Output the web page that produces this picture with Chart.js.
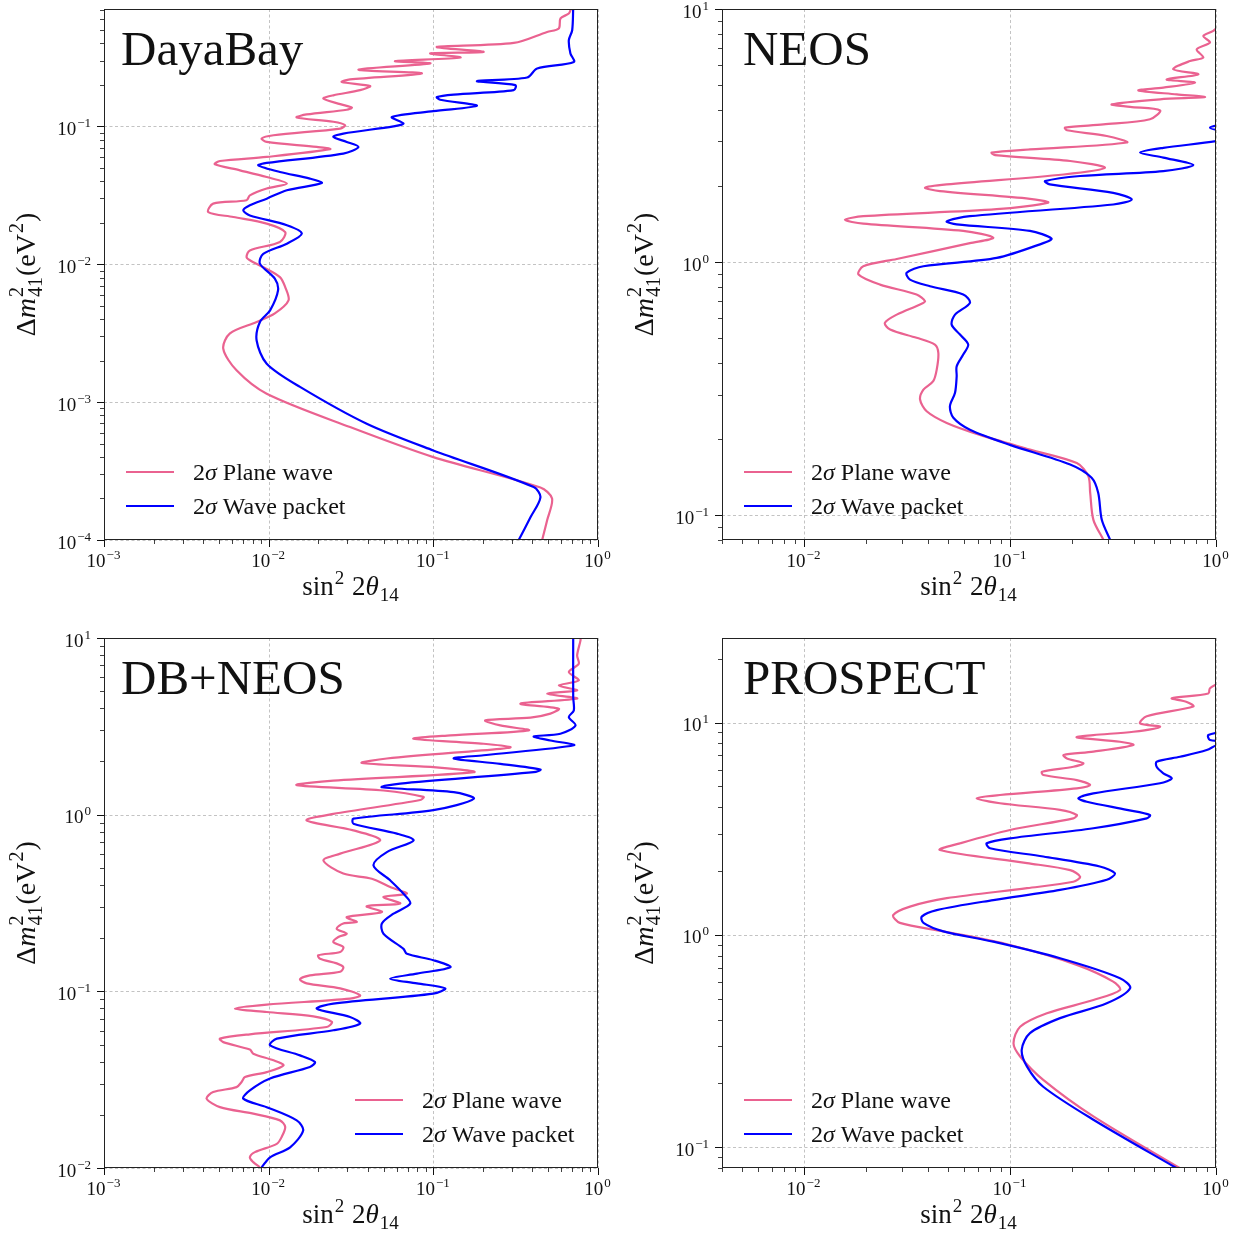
<!DOCTYPE html>
<html>
<head>
<meta charset="utf-8">
<title>Sterile neutrino 2σ contours</title>
<script src="https://cdn.jsdelivr.net/npm/chart.js@4.4.1/dist/chart.umd.min.js"></script>
<style>
  body { margin: 0; background: #fff; }
  #wrap { position: relative; width: 1245px; height: 1235px; }
  #wrap canvas { position: absolute; left: 0; top: 0; }
</style>
</head>
<body>
<div id="wrap">
  <canvas id="dayabay" width="1245" height="1235"></canvas>
  <canvas id="neos" width="1245" height="1235"></canvas>
  <canvas id="dbneos" width="1245" height="1235"></canvas>
  <canvas id="prospect" width="1245" height="1235"></canvas>
</div>
<script>
// Contours are [sin^2 2theta14, dm^2_41 (eV^2)] pairs, ordered by dm^2.
const dayaBayPlane = [
  [0.458, 1.0e-4], [0.491, 1.39e-4], [0.526, 2.0e-4], [0.447, 2.40e-4], [0.100, 3.99e-4],
  [0.0312, 6.59e-4], [0.00973, 1.15e-3], [0.00638, 1.70e-3], [0.00530, 2.44e-3], [0.00582, 3.15e-3],
  [0.00845, 3.81e-3], [0.0109, 4.40e-3], [0.0132, 5.47e-3], [0.0126, 6.83e-3], [0.0117, 8.07e-3],
  [0.00923, 9.54e-3], [0.00769, 0.0107], [0.00734, 0.0113], [0.00769, 0.0126], [0.0117, 0.0145],
  [0.0126, 0.0171], [0.00973, 0.0197], [0.00610, 0.0220], [0.00430, 0.0239], [0.00460, 0.0275],
  [0.00734, 0.0291], [0.00769, 0.0316], [0.00973, 0.0354], [0.0129, 0.0385], [0.00973, 0.0429],
  [0.00669, 0.0480], [0.00471, 0.0531], [0.00506, 0.0561], [0.00973, 0.0600], [0.0236, 0.0683],
  [0.0196, 0.0709], [0.00973, 0.0771], [0.00907, 0.0816], [0.0107, 0.0862], [0.0272, 0.0964],
  [0.0291, 0.102], [0.0247, 0.108], [0.0148, 0.116], [0.0170, 0.122], [0.0298, 0.132],
  [0.0320, 0.137], [0.0272, 0.145], [0.0215, 0.159], [0.0247, 0.168], [0.0359, 0.183],
  [0.0413, 0.196], [0.0278, 0.210], [0.0312, 0.219], [0.0852, 0.242], [0.0351, 0.258],
  [0.0958, 0.286], [0.0586, 0.297], [0.146, 0.316], [0.0958, 0.338], [0.202, 0.347],
  [0.105, 0.377], [0.308, 0.403], [0.491, 0.484], [0.578, 0.513], [0.592, 0.606],
  [0.665, 0.659], [0.687, 0.716]
];
const dayaBayPacket = [
  [0.330, 1.0e-4], [0.389, 1.46e-4], [0.447, 2.04e-4], [0.407, 2.42e-4], [0.100, 4.46e-4],
  [0.0394, 6.97e-4], [0.0155, 1.29e-3], [0.00973, 1.90e-3], [0.00845, 2.80e-3], [0.00885, 3.81e-3],
  [0.0102, 4.63e-3], [0.0114, 6.46e-3], [0.0109, 7.86e-3], [0.00885, 0.0101], [0.00927, 0.0119],
  [0.0129, 0.0141], [0.0159, 0.0167], [0.0129, 0.0192], [0.00769, 0.0226], [0.00701, 0.0246],
  [0.00769, 0.0268], [0.00973, 0.0299], [0.0129, 0.0344], [0.0210, 0.0388], [0.0178, 0.0418],
  [0.0117, 0.0467], [0.00865, 0.0522], [0.00973, 0.0543], [0.0284, 0.0635], [0.0351, 0.0709],
  [0.0298, 0.0771], [0.0247, 0.0838], [0.0284, 0.0887], [0.0573, 0.100], [0.0659, 0.105],
  [0.0560, 0.117], [0.100, 0.129], [0.184, 0.141], [0.110, 0.156], [0.105, 0.163],
  [0.133, 0.170], [0.308, 0.183], [0.315, 0.199], [0.184, 0.213], [0.371, 0.226],
  [0.427, 0.263], [0.713, 0.293], [0.680, 0.338], [0.665, 0.422], [0.697, 0.498], [0.707, 0.716]
];
const neosPlane = [
  [0.284, 0.0802], [0.254, 0.0961], [0.245, 0.123], [0.240, 0.143], [0.211, 0.161],
  [0.125, 0.182], [0.0715, 0.208], [0.0493, 0.232], [0.0394, 0.258], [0.0366, 0.287],
  [0.0380, 0.314], [0.0424, 0.339], [0.0441, 0.377], [0.0449, 0.438], [0.0432, 0.473],
  [0.0352, 0.503], [0.0262, 0.542], [0.0247, 0.576], [0.0282, 0.621], [0.0366, 0.681],
  [0.0387, 0.701], [0.0352, 0.746], [0.0234, 0.816], [0.0184, 0.894], [0.0194, 0.964],
  [0.0282, 1.03], [0.0639, 1.19], [0.0830, 1.25], [0.0593, 1.33], [0.0194, 1.42],
  [0.0158, 1.47], [0.0194, 1.52], [0.0862, 1.62], [0.153, 1.72], [0.125, 1.78],
  [0.0457, 1.91], [0.0387, 1.97], [0.0493, 2.03], [0.182, 2.22], [0.289, 2.36],
  [0.196, 2.51], [0.0846, 2.65], [0.0815, 2.71], [0.125, 2.79], [0.369, 2.97],
  [0.295, 3.15], [0.189, 3.32], [0.185, 3.40], [0.284, 3.50], [0.478, 3.67],
  [0.535, 3.98], [0.383, 4.11], [0.312, 4.20], [0.535, 4.40], [0.884, 4.49],
  [0.645, 4.60], [0.420, 4.77], [0.555, 4.89], [0.791, 5.12], [0.576, 5.27],
  [0.821, 5.52], [0.620, 5.78], [0.748, 6.23], [0.868, 6.43], [0.806, 6.93],
  [0.935, 7.37], [0.868, 7.82], [0.970, 8.19], [1.07, 8.78]
];
const neosPacket = [
  [0.306, 0.0802], [0.279, 0.0961], [0.268, 0.123], [0.249, 0.141], [0.196, 0.159],
  [0.100, 0.190], [0.0639, 0.218], [0.0531, 0.243], [0.0511, 0.270], [0.0541, 0.305],
  [0.0551, 0.354], [0.0551, 0.388], [0.0593, 0.432], [0.0627, 0.473], [0.0572, 0.518],
  [0.0521, 0.567], [0.0541, 0.621], [0.0639, 0.691], [0.0593, 0.746], [0.0409, 0.804],
  [0.0327, 0.854], [0.0315, 0.908], [0.0380, 0.964], [0.0862, 1.04], [0.145, 1.19],
  [0.159, 1.24], [0.125, 1.33], [0.0551, 1.41], [0.0493, 1.45], [0.0639, 1.52],
  [0.317, 1.69], [0.390, 1.77], [0.317, 1.88], [0.156, 2.03], [0.148, 2.09],
  [0.219, 2.19], [0.555, 2.29], [0.776, 2.42], [0.555, 2.59], [0.428, 2.71],
  [0.555, 2.83], [1.01, 3.01], [1.31, 3.17], [0.935, 3.40], [1.31, 3.67], [1.5, 4.5]
];
const dbNeosPlane = [
  [0.00885, 0.0101], [0.00806, 0.0108], [0.00769, 0.0115], [0.00825, 0.0123], [0.0112, 0.0137],
  [0.0120, 0.0150], [0.0126, 0.0171], [0.0117, 0.0186], [0.00806, 0.0203], [0.00506, 0.0221],
  [0.00420, 0.0247], [0.00460, 0.0269], [0.00638, 0.0287], [0.00685, 0.0307], [0.00718, 0.0327],
  [0.00973, 0.0349], [0.0123, 0.0381], [0.0107, 0.0407], [0.00806, 0.0444], [0.00769, 0.0468],
  [0.00530, 0.0516], [0.00506, 0.0540], [0.00769, 0.0571], [0.0225, 0.0628], [0.0242, 0.0671],
  [0.0187, 0.0722], [0.00973, 0.0764], [0.00624, 0.0798], [0.00973, 0.0841], [0.0312, 0.0909],
  [0.0359, 0.0949], [0.0272, 0.104], [0.0170, 0.111], [0.0155, 0.117], [0.0178, 0.123],
  [0.0272, 0.129], [0.0284, 0.137], [0.0259, 0.144], [0.0205, 0.153], [0.0200, 0.160],
  [0.0272, 0.167], [0.0284, 0.178], [0.0247, 0.190], [0.0265, 0.203], [0.0298, 0.212],
  [0.0259, 0.226], [0.0284, 0.242], [0.0343, 0.247], [0.0298, 0.263], [0.0487, 0.281],
  [0.0394, 0.303], [0.0629, 0.314], [0.0498, 0.342], [0.0691, 0.357], [0.0547, 0.389],
  [0.0423, 0.434], [0.0284, 0.464], [0.0215, 0.551], [0.0272, 0.602], [0.0475, 0.715],
  [0.0327, 0.815], [0.0170, 0.928], [0.0247, 1.01], [0.0832, 1.21], [0.0872, 1.26],
  [0.0498, 1.37], [0.0148, 1.47], [0.0247, 1.56], [0.176, 1.74], [0.100, 1.86],
  [0.0368, 1.96], [0.0522, 2.08], [0.255, 2.36], [0.294, 2.41], [0.202, 2.52],
  [0.0758, 2.69], [0.127, 2.81], [0.380, 3.00], [0.255, 3.20], [0.207, 3.42],
  [0.389, 3.54], [0.514, 3.73], [0.578, 3.98], [0.338, 4.25], [0.747, 4.54],
  [0.491, 4.84], [0.747, 5.05], [0.578, 5.39], [0.764, 5.75], [0.665, 6.41],
  [0.764, 7.15], [0.747, 7.97], [0.783, 9.69], [0.783, 10.0]
];
const dbNeosPacket = [
  [0.00907, 0.0101], [0.0102, 0.0115], [0.0135, 0.0131], [0.0162, 0.0163], [0.0148, 0.0186],
  [0.00973, 0.0221], [0.00701, 0.0247], [0.00769, 0.0275], [0.0102, 0.0321], [0.0178, 0.0373],
  [0.0191, 0.0398], [0.0155, 0.0434], [0.0102, 0.0495], [0.0112, 0.0540], [0.0247, 0.0602],
  [0.0359, 0.0657], [0.0312, 0.0716], [0.0196, 0.0798], [0.0247, 0.0852], [0.100, 0.0970],
  [0.118, 0.104], [0.0795, 0.111], [0.0547, 0.118], [0.0795, 0.126], [0.127, 0.137],
  [0.100, 0.150], [0.0691, 0.163], [0.0659, 0.174], [0.0498, 0.212], [0.0487, 0.242],
  [0.0573, 0.275], [0.0724, 0.314], [0.0659, 0.357], [0.0547, 0.425], [0.0433, 0.517],
  [0.0522, 0.614], [0.0758, 0.715], [0.0601, 0.781], [0.0327, 0.889], [0.0327, 0.949],
  [0.100, 1.06], [0.176, 1.23], [0.133, 1.34], [0.0487, 1.43], [0.0629, 1.50],
  [0.407, 1.74], [0.447, 1.80], [0.255, 1.94], [0.133, 2.08], [0.202, 2.17],
  [0.713, 2.47], [0.514, 2.63], [0.407, 2.77], [0.591, 2.87], [0.730, 3.20],
  [0.665, 3.57], [0.713, 3.89], [0.707, 4.63], [0.707, 10.0]
];
const prospectPlane = [
  [0.669, 0.0798], [0.254, 0.140], [0.145, 0.208], [0.112, 0.268], [0.104, 0.309],
  [0.112, 0.370], [0.151, 0.428], [0.254, 0.494], [0.342, 0.551], [0.317, 0.603],
  [0.211, 0.723], [0.100, 0.897], [0.0475, 1.04], [0.0292, 1.14], [0.0271, 1.24],
  [0.0327, 1.36], [0.0493, 1.49], [0.121, 1.66], [0.203, 1.78], [0.219, 1.88],
  [0.196, 2.02], [0.121, 2.18], [0.0457, 2.51], [0.0572, 2.70], [0.100, 3.12],
  [0.203, 3.54], [0.211, 3.67], [0.175, 3.88], [0.0894, 4.17], [0.0689, 4.40],
  [0.0894, 4.56], [0.211, 4.90], [0.245, 5.08], [0.211, 5.36], [0.145, 5.66],
  [0.143, 5.87], [0.203, 6.19], [0.227, 6.43], [0.189, 6.78], [0.182, 7.03],
  [0.254, 7.29], [0.397, 7.84], [0.342, 8.12], [0.211, 8.52], [0.254, 8.73],
  [0.397, 9.05], [0.535, 9.56], [0.428, 9.91], [0.461, 10.7], [0.776, 11.9],
  [0.721, 12.5], [0.610, 13.0], [0.918, 13.7], [0.935, 14.5], [1.11, 15.9]
];
const prospectPacket = [
  [0.645, 0.0798], [0.254, 0.135], [0.145, 0.193], [0.121, 0.240], [0.114, 0.288],
  [0.125, 0.345], [0.175, 0.406], [0.295, 0.477], [0.383, 0.561], [0.342, 0.626],
  [0.175, 0.777], [0.0830, 0.930], [0.0475, 1.04], [0.0380, 1.14], [0.0373, 1.22],
  [0.0441, 1.31], [0.0830, 1.46], [0.175, 1.63], [0.295, 1.82], [0.323, 1.95],
  [0.273, 2.10], [0.145, 2.34], [0.0800, 2.56], [0.0771, 2.70], [0.100, 2.85],
  [0.254, 3.18], [0.461, 3.54], [0.478, 3.67], [0.369, 3.88], [0.236, 4.24],
  [0.215, 4.40], [0.254, 4.64], [0.535, 5.18], [0.610, 5.46], [0.555, 5.77],
  [0.515, 6.19], [0.515, 6.54], [0.669, 6.90], [0.901, 7.42], [1.01, 7.84],
  [1.17, 8.10], [0.935, 8.27], [0.918, 8.73], [1.17, 9.22]
];

// Axis limits and labelled decades
const xRangeWide = [1e-3, 1];
const xRangeNarrow = [0.004, 1];
const yRangeDayaBay = [1e-4, 0.71];
const yRangeNeos = [0.08, 10];
const yRangeDbNeos = [0.01, 10];
const yRangeProspect = [0.08, 25];
const xTicksWide = [1e-3, 1e-2, 1e-1, 1];
const xTicksNarrow = [1e-2, 1e-1, 1];
const yTicksDayaBay = [1e-4, 1e-3, 1e-2, 1e-1];
const yTicksNeos = [1e-1, 1, 10];
const yTicksDbNeos = [1e-2, 1e-1, 1, 10];
const yTicksProspect = [1e-1, 1, 10];

const panelNames = ['DayaBay', 'NEOS', 'DB+NEOS', 'PROSPECT'];
const seriesNames = ['Plane wave', 'Wave packet'];

const PINK = '#EA6290';
const BLUE = '#0000FF';
const SERIF = '"Liberation Serif", "Times New Roman", serif';
const INK = '#111';
const PAGE_W = 1245, PAGE_H = 1235;

// lays out a bit of "math" text: plain/italic runs plus super/subscripts
function richLayout(ctx, parts, size) {
  const small = Math.round(size * 0.7);
  let x = 0;
  const items = [];
  parts.forEach(p => {
    if (p.sup !== undefined || p.sub !== undefined) {
      ctx.font = small + 'px ' + SERIF;
      let w = 0;
      if (p.sup) {
        items.push({ t: p.sup, f: ctx.font, dx: x + 1, dy: -size * 0.42 });
        w = Math.max(w, ctx.measureText(p.sup).width);
      }
      if (p.sub) {
        items.push({ t: p.sub, f: ctx.font, dx: x + 1, dy: size * 0.24 });
        w = Math.max(w, ctx.measureText(p.sub).width);
      }
      x += w + 2;
    } else {
      ctx.font = (p.i ? 'italic ' : '') + size + 'px ' + SERIF;
      items.push({ t: p.t, f: ctx.font, dx: x, dy: 0 });
      x += ctx.measureText(p.t).width;
    }
  });
  return { width: x, items };
}

function drawRich(ctx, parts, x, y, size, align) {
  const lay = richLayout(ctx, parts, size);
  let x0 = x;
  if (align === 'center') x0 = x - lay.width / 2;
  else if (align === 'right') x0 = x - lay.width;
  ctx.fillStyle = INK;
  ctx.textAlign = 'left';
  ctx.textBaseline = 'alphabetic';
  lay.items.forEach(it => {
    ctx.font = it.f;
    ctx.fillText(it.t, x0 + it.dx, y + it.dy);
  });
}

function powLabel(v) {
  const e = Math.round(Math.log10(v));
  return [{ t: '10' }, { sup: e < 0 ? '\u2212' + (-e) : String(e) }];
}

function logTickValues(min, max) {
  const vals = [];
  for (let e = Math.floor(Math.log10(min)); e <= Math.ceil(Math.log10(max)); e++) {
    for (let m = 1; m <= 9; m++) {
      const v = m * Math.pow(10, e);
      if (v >= min * 0.9999 && v <= max * 1.0001) vals.push({ v, major: m === 1 });
    }
  }
  return vals;
}

// grid, frame, ticks, labels, legend and panel name
function decorations(p) {
  return {
    id: 'deco_' + p.id,
    beforeDatasetsDraw(chart) {
      const { ctx, chartArea: a, scales: { x, y } } = chart;
      ctx.save();
      ctx.strokeStyle = '#b4b4b4';
      ctx.lineWidth = 0.8;
      ctx.setLineDash([3, 2.5]);
      p.xt.forEach(v => {
        const px = Math.round(x.getPixelForValue(v)) + 0.5;
        ctx.beginPath(); ctx.moveTo(px, a.top); ctx.lineTo(px, a.bottom); ctx.stroke();
      });
      p.yt.forEach(v => {
        const py = Math.round(y.getPixelForValue(v)) + 0.5;
        ctx.beginPath(); ctx.moveTo(a.left, py); ctx.lineTo(a.right, py); ctx.stroke();
      });
      ctx.restore();
    },
    afterDatasetsDraw(chart) {
      const { ctx, chartArea: a, scales: { x, y } } = chart;
      ctx.save();
      ctx.setLineDash([]);

      // frame
      ctx.strokeStyle = '#222';
      ctx.lineWidth = 1;
      ctx.strokeRect(a.left + 0.5, a.top + 0.5, a.right - a.left - 1, a.bottom - a.top - 1);

      // tick marks, outward, bottom and left only
      ctx.strokeStyle = '#111';
      logTickValues(p.xr[0], p.xr[1]).forEach(t => {
        const px = Math.round(x.getPixelForValue(t.v)) + 0.5;
        ctx.lineWidth = t.major ? 1 : 0.8;
        ctx.beginPath(); ctx.moveTo(px, a.bottom); ctx.lineTo(px, a.bottom + (t.major ? 7 : 4)); ctx.stroke();
      });
      logTickValues(p.yr[0], p.yr[1]).forEach(t => {
        const py = Math.round(y.getPixelForValue(t.v)) + 0.5;
        ctx.lineWidth = t.major ? 1 : 0.8;
        ctx.beginPath(); ctx.moveTo(a.left, py); ctx.lineTo(a.left - (t.major ? 7 : 4), py); ctx.stroke();
      });

      // tick labels
      p.xt.forEach(v => drawRich(ctx, powLabel(v), x.getPixelForValue(v), a.bottom + 27, 19, 'center'));
      p.yt.forEach(v => drawRich(ctx, powLabel(v), a.left - 12, y.getPixelForValue(v) + 8.5, 19, 'right'));

      // axis titles
      drawRich(ctx, [{ t: 'sin' }, { sup: '2' }, { t: ' 2' }, { t: '\u03b8', i: true }, { sub: '14' }],
        (a.left + a.right) / 2, a.bottom + 55, 27, 'center');
      ctx.save();
      ctx.translate(a.left - 69, (a.top + a.bottom) / 2);
      ctx.rotate(-Math.PI / 2);
      drawRich(ctx, [{ t: '\u0394' }, { t: 'm', i: true }, { sup: '2', sub: '41' }, { t: '(eV' }, { sup: '2' }, { t: ')' }],
        0, 0, 28, 'center');
      ctx.restore();

      // panel name
      ctx.fillStyle = INK;
      ctx.font = '49px ' + SERIF;
      ctx.textAlign = 'left';
      ctx.textBaseline = 'alphabetic';
      ctx.fillText(p.name, a.left + p.nameDx, a.top + 56);

      // legend (no frame)
      [PINK, BLUE].forEach((c, i) => {
        const ly = p.legend[1] + i * 34;
        ctx.strokeStyle = c;
        ctx.lineWidth = 2.2;
        ctx.beginPath(); ctx.moveTo(p.legend[0], ly); ctx.lineTo(p.legend[0] + 48, ly); ctx.stroke();
        drawRich(ctx, [{ t: '2' }, { t: '\u03c3', i: true }, { t: ' ' + seriesNames[i] }], p.legend[0] + 67, ly + 8, 24, 'left');
      });
      ctx.restore();
    }
  };
}

const panels = [
  { id: 'dayabay', name: panelNames[0], plane: dayaBayPlane, packet: dayaBayPacket, nameDx: 17,
    area: [104, 9, 598, 540], xr: xRangeWide, yr: yRangeDayaBay, xt: xTicksWide, yt: yTicksDayaBay, legend: [126, 472] },
  { id: 'neos', name: panelNames[1], plane: neosPlane, packet: neosPacket, nameDx: 21,
    area: [722, 9, 1216, 540], xr: xRangeNarrow, yr: yRangeNeos, xt: xTicksNarrow, yt: yTicksNeos, legend: [744, 472] },
  { id: 'dbneos', name: panelNames[2], plane: dbNeosPlane, packet: dbNeosPacket, nameDx: 17,
    area: [104, 638, 598, 1168], xr: xRangeWide, yr: yRangeDbNeos, xt: xTicksWide, yt: yTicksDbNeos, legend: [355, 1100] },
  { id: 'prospect', name: panelNames[3], plane: prospectPlane, packet: prospectPacket, nameDx: 21,
    area: [722, 638, 1216, 1168], xr: xRangeNarrow, yr: yRangeProspect, xt: xTicksNarrow, yt: yTicksProspect, legend: [744, 1100] }
];

const lineStyle = { showLine: true, borderWidth: 2.2, pointRadius: 0, pointHoverRadius: 0, tension: 0.3, fill: false };

panels.forEach(p => {
  const [l, t, r, b] = p.area;
  new Chart(document.getElementById(p.id), {
    type: 'scatter',
    data: {
      datasets: [
        Object.assign({ label: '2σ ' + seriesNames[0], data: p.plane.map(([x, y]) => ({ x, y })), borderColor: PINK, order: 2 }, lineStyle),
        Object.assign({ label: '2σ ' + seriesNames[1], data: p.packet.map(([x, y]) => ({ x, y })), borderColor: BLUE, order: 1 }, lineStyle)
      ]
    },
    options: {
      responsive: false,
      animation: false,
      events: [],
      layout: { padding: { left: l, top: t, right: PAGE_W - r, bottom: PAGE_H - b } },
      scales: {
        x: { type: 'logarithmic', min: p.xr[0], max: p.xr[1], display: false },
        y: { type: 'logarithmic', min: p.yr[0], max: p.yr[1], display: false }
      },
      plugins: { legend: { display: false }, tooltip: { enabled: false } }
    },
    plugins: [decorations(p)]
  });
});
</script>
</body>
</html>
